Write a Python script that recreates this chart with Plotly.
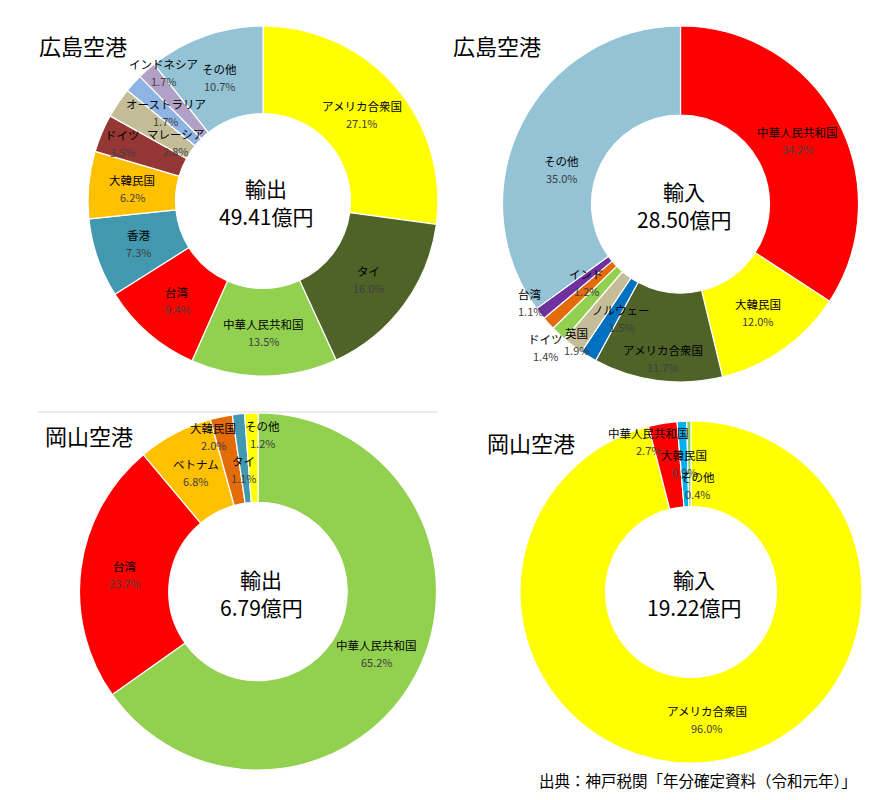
import math
import plotly.graph_objects as go

# page body has an 8px margin; keep reference pixel coordinates and compensate
OFF = 8
W, H = 890 - 2 * OFF, 800 - 2 * OFF

# ---------------- data ----------------
hiro_exp_labels = ["アメリカ合衆国", "タイ", "中華人民共和国", "台湾", "香港", "大韓民国",
                   "ドイツ", "マレーシア", "オーストラリア", "インドネシア", "その他"]
hiro_exp_values = [27.1, 16.0, 13.5, 9.4, 7.3, 6.2, 3.5, 2.8, 1.7, 1.7, 10.7]

hiro_imp_labels = ["中華人民共和国", "大韓民国", "アメリカ合衆国", "ノルウェー", "英国",
                   "ドイツ", "インド", "台湾", "その他"]
hiro_imp_values = [34.2, 12.0, 11.7, 1.5, 1.9, 1.4, 1.2, 1.1, 35.0]

oka_exp_labels = ["中華人民共和国", "台湾", "ベトナム", "大韓民国", "タイ", "その他"]
oka_exp_values = [65.2, 23.7, 6.8, 2.0, 1.1, 1.2]

oka_imp_labels = ["アメリカ合衆国", "中華人民共和国", "大韓民国", "その他"]
oka_imp_values = [96.0, 2.7, 0.9, 0.4]

titles = ["広島空港", "広島空港", "岡山空港", "岡山空港"]
center_kind = ["輸出", "輸入", "輸出", "輸入"]
center_amount = ["49.41億円", "28.50億円", "6.79億円", "19.22億円"]
source_text = "出典：神戸税関「年分確定資料（令和元年）」"

# ---------------- styles ----------------
hiro_exp_colors = ["#FFFF00", "#4F6228", "#92D050", "#FF0000", "#4198AF", "#FFC000",
                   "#953735", "#C4BD97", "#8DB4E2", "#B2A1C7", "#93C3D5"]
hiro_imp_colors = ["#FF0000", "#FFFF00", "#4F6228", "#0070C0", "#C4BD97",
                   "#92D050", "#E36C09", "#7030A0", "#93C3D5"]
oka_exp_colors = ["#92D050", "#FF0000", "#FFC000", "#E36C09", "#4198AF", "#FFFF00"]
oka_imp_colors = ["#FFFF00", "#FF0000", "#00B0F0", "#92D050"]

# pie geometry in reference pixels: (center x, center y, radius)
geoms = [(263, 201, 175), (680.5, 204, 178), (258, 591.5, 178.5), (691, 592, 171)]
title_pos = [(37, 45), (451, 45), (43, 435), (485, 442)]

# label nudges (pixels) for labels Excel moved off the ring centre
nudges = [
    {"ドイツ": (-19, -7), "マレーシア": (21, 15), "インドネシア": (-12, -30)},
    {"アメリカ合衆国": (0, 22), "ノルウェー": (10, 0), "英国": (-23, 31),
     "ドイツ": (-44, 46), "インド": (5, -11), "台湾": (-45, 16), "その他": (0, 26)},
    {"大韓民国": (-17, -24), "タイ": (0, 11), "その他": (10, -23)},
    {"中華人民共和国": (-21, -24), "その他": (8, 22)},
]

datasets = [
    (hiro_exp_labels, hiro_exp_values, hiro_exp_colors),
    (hiro_imp_labels, hiro_imp_values, hiro_imp_colors),
    (oka_exp_labels, oka_exp_values, oka_exp_colors),
    (oka_imp_labels, oka_imp_values, oka_imp_colors),
]

FONT = "Noto Sans CJK JP"
HOLE = 0.5
LINE_GAP = 8.5

fig = go.Figure()
annotations = []

def px(x):
    return (x - OFF) / W

def py(y):
    return 1 - (y - OFF) / H

for i, (labels, values, colors) in enumerate(datasets):
    cx, cy, r = geoms[i]
    fig.add_trace(go.Pie(
        labels=labels, values=values, hole=HOLE, sort=False,
        direction="clockwise", rotation=0,
        marker=dict(colors=colors, line=dict(color="white", width=1.2)),
        textinfo="none", hoverinfo="label+percent", showlegend=False,
        domain=dict(x=[px(cx - r), px(cx + r)], y=[py(cy + r), py(cy - r)]),
    ))
    total = sum(values)
    cum = 0.0
    rm = r * (1 + HOLE) / 2
    for lab, v in zip(labels, values):
        mid = (cum + v / 2) / total
        cum += v
        ang = 2 * math.pi * mid
        lx = cx + rm * math.sin(ang)
        ly = cy - rm * math.cos(ang)
        dx, dy = nudges[i].get(lab, (0, 0))
        lx += dx
        ly += dy
        pct = 100 * v / total
        annotations.append(dict(
            x=px(lx), y=py(ly - LINE_GAP), xref="paper", yref="paper",
            text=lab, showarrow=False, xanchor="center", yanchor="middle",
            font=dict(family=FONT, size=11.5, color="black"),
        ))
        annotations.append(dict(
            x=px(lx), y=py(ly + LINE_GAP), xref="paper", yref="paper",
            text=f"{pct:.1f}%", showarrow=False, xanchor="center", yanchor="middle",
            font=dict(family=FONT, size=11, color="#404040"),
        ))
    # centre text
    annotations.append(dict(
        x=px(cx + 3), y=py(cy - 13), xref="paper", yref="paper",
        text=center_kind[i], showarrow=False, xanchor="center", yanchor="middle",
        font=dict(family=FONT, size=21, color="black"),
    ))
    annotations.append(dict(
        x=px(cx + 3), y=py(cy + 15), xref="paper", yref="paper",
        text=center_amount[i], showarrow=False, xanchor="center", yanchor="middle",
        font=dict(family=FONT, size=21, color="black"),
    ))
    tx, ty = title_pos[i]
    annotations.append(dict(
        x=px(tx), y=py(ty), xref="paper", yref="paper", text=titles[i],
        showarrow=False, xanchor="left", yanchor="middle",
        font=dict(family=FONT, size=22, color="black"),
    ))

# source note: bottom-anchored so it stays inside the figure area
annotations.append(dict(
    x=px(858), y=0, xref="paper", yref="paper", text=source_text,
    showarrow=False, xanchor="right", yanchor="bottom",
    font=dict(family=FONT, size=15.5, color="black"),
    borderpad=0,
))

fig.update_layout(
    width=W, height=H, autosize=False,
    margin=dict(l=0, r=0, t=0, b=0),
    paper_bgcolor="white", plot_bgcolor="white",
    annotations=annotations,
    shapes=[dict(type="line", xref="paper", yref="paper",
                 x0=px(38), x1=px(438), y0=py(412), y1=py(412),
                 line=dict(color="#D9D9D9", width=1))],
)

fig.write_html("out.html")
